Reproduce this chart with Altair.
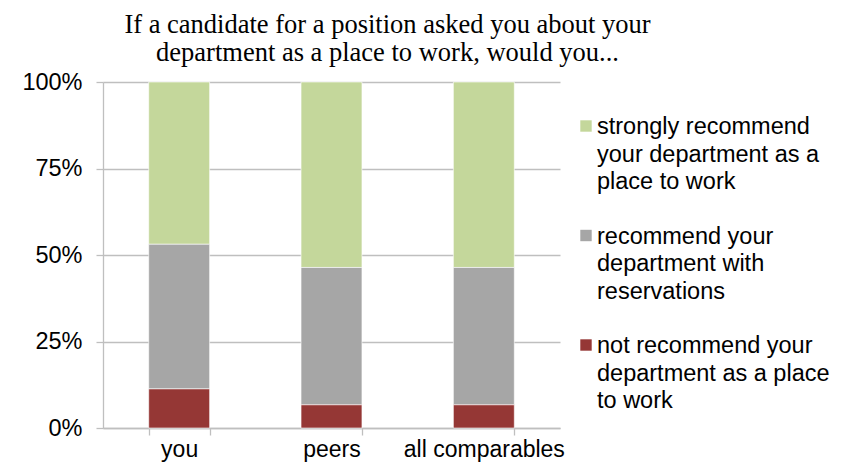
import altair as alt
import pandas as pd

# ---- data ----
categories = ["you", "peers", "all comparables"]
series = [
    "strongly recommend your department as a place to work",
    "recommend your department with reservations",
    "not recommend your department as a place to work",
]
legend_lines = [
    ["strongly recommend", "your department as a", "place to work"],
    ["recommend your", "department with", "reservations"],
    ["not recommend your", "department as a place", "to work"],
]
colors = ["#C4D79B", "#A6A6A6", "#953735"]
strongly = [46.9, 53.6, 53.6]
reservations = [41.8, 39.7, 39.7]
not_recommend = [11.3, 6.7, 6.7]
y_ticks = [0, 25, 50, 75, 100]
title_lines = [
    "If a candidate for a position asked you about your",
    "department as a place to work, would you...",
]

values_by_series = [strongly, reservations, not_recommend]
stack_pos = [2, 1, 0]  # bottom = not recommend

rows = []
for ci, cat in enumerate(categories):
    for si, s in enumerate(series):
        rows.append({"category": cat, "series": s,
                     "value": values_by_series[si][ci], "stack": stack_pos[si]})
df = pd.DataFrame(rows)

leg_df = pd.DataFrame({"series": series,
                       "label": ["\n".join(l) for l in legend_lines]})

GRID = "#BFBFBF"
FONT = "Liberation Sans"
color_scale = alt.Scale(domain=series, range=colors)

bars = alt.Chart(df).mark_bar(stroke="white", strokeWidth=0.6).encode(
    x=alt.X("category:N", sort=categories, title=None,
            scale=alt.Scale(paddingInner=0.6, paddingOuter=0.3),
            axis=alt.Axis(labelAngle=0, tickBand="extent", tickSize=7,
                          labelPadding=3, labelFontSize=23, grid=False)),
    y=alt.Y("value:Q", stack="zero", title=None,
            scale=alt.Scale(domain=[0, 100], nice=False),
            axis=alt.Axis(values=y_ticks, labelExpr="datum.value + '%'",
                          tickSize=7, labelPadding=14, grid=True)),
    color=alt.Color("series:N", scale=color_scale, legend=None),
    order=alt.Order("stack:Q", sort="ascending"),
)

leg_y = alt.Y("series:N", sort=series, axis=None,
              scale=alt.Scale(range=[44, 263], padding=0))

leg_sq = alt.Chart(leg_df).mark_square(size=130, opacity=1).encode(
    y=leg_y, x=alt.value(483),
    color=alt.Color("series:N", scale=color_scale, legend=None),
)
leg_txt = alt.Chart(leg_df).mark_text(
    align="left", baseline="alphabetic", dy=8, font=FONT, fontSize=23.5,
    lineHeight=27.5, lineBreak="\n", color="black",
).encode(y=leg_y, x=alt.value(494), text="label:N")

legend = alt.layer(leg_sq, leg_txt)

chart = alt.layer(bars, legend).resolve_scale(y="independent").properties(
    width=457, height=346,
    title=alt.Title(title_lines, font="Liberation Serif", fontSize=26.5,
                    fontWeight="normal", color="black", lineHeight=28,
                    anchor="middle", frame="group", dx=56, offset=4),
    autosize=alt.AutoSizeParams(type="none"),
    padding={"left": 95, "top": 74, "right": 288, "bottom": 37},
).configure_view(stroke=None).configure_axis(
    domainColor=GRID, domainWidth=1.3, tickColor=GRID, tickWidth=1.3,
    gridColor=GRID, gridWidth=1.3, labelFont=FONT, labelFontSize=23.5,
    labelColor="black",
)

chart.save("out.html", embed_options={"renderer": "svg", "actions": False})
